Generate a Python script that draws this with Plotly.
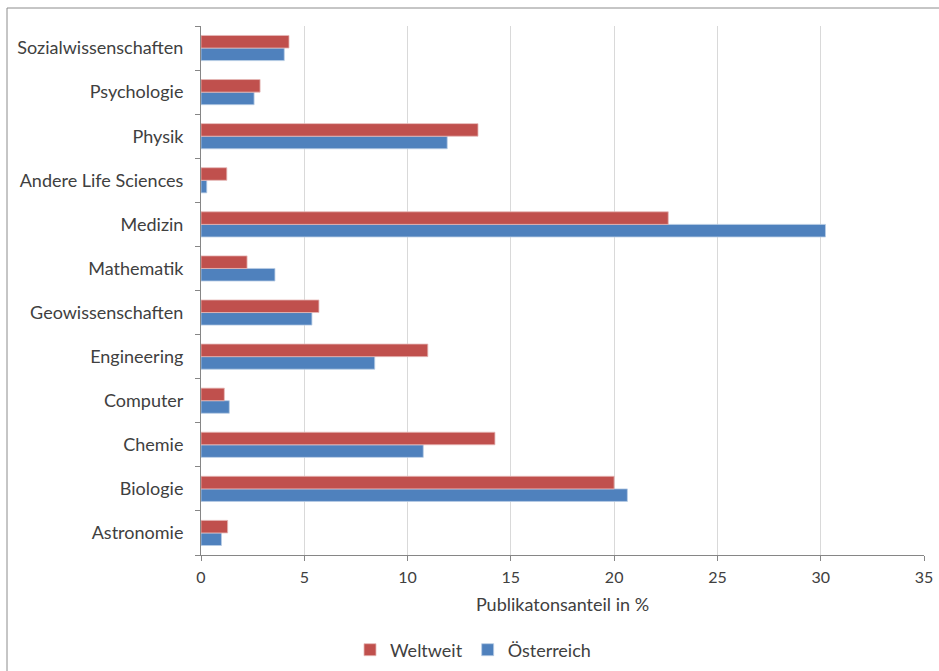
import plotly.graph_objects as go

categories = ["Astronomie", "Biologie", "Chemie", "Computer", "Engineering",
              "Geowissenschaften", "Mathematik", "Medizin", "Andere Life Sciences",
              "Physik", "Psychologie", "Sozialwissenschaften"]
weltweit = [1.29, 20.0, 14.23, 1.13, 10.98, 5.71, 2.23, 22.62, 1.25, 13.41, 2.86, 4.26]
oesterreich = [0.99, 20.64, 10.76, 1.37, 8.41, 5.37, 3.58, 30.23, 0.28, 11.92, 2.57, 4.03]
x_ticks = [0, 5, 10, 15, 20, 25, 30, 35]

FONT = "Lato"
TXT = "#404040"

fig = go.Figure()
fig.add_trace(go.Bar(y=categories, x=oesterreich, name="Österreich", orientation="h",
                     marker=dict(color="#4F81BD", line=dict(color="#B9CDE5", width=0.8)),
                     legendrank=2))
fig.add_trace(go.Bar(y=categories, x=weltweit, name="Weltweit", orientation="h",
                     marker=dict(color="#C0504D", line=dict(color="#E6B9B8", width=0.8)),
                     legendrank=1))

W, H = 939, 671
L, R, T, B = 201, 15, 26, 116
pw = W - L - R
ph = H - T - B

fig.update_layout(
    width=W, height=H,
    margin=dict(l=L, r=R, t=T, b=B, autoexpand=False),
    barmode="group", bargap=0.43, bargroupgap=0,
    plot_bgcolor="white", paper_bgcolor="white",
    font=dict(family=FONT, size=18, color=TXT),
    xaxis=dict(range=[0, 35], tickvals=x_ticks, showgrid=True, gridcolor="#D9D9D9",
               gridwidth=1, zeroline=False, showline=True, linecolor="#868686",
               ticks="outside", ticklen=5, tickcolor="#868686",
               ticklabelstandoff=3, automargin=False,
               tickfont=dict(family=FONT, size=16, color=TXT),
               title=dict(text="Publikatonsanteil in %", standoff=13,
                          font=dict(family=FONT, size=18, color=TXT))),
    yaxis=dict(type="category", categoryorder="array", categoryarray=categories,
               showline=True, linecolor="#868686", ticks="outside", ticklen=5,
               tickcolor="#868686", tickson="boundaries", showgrid=False,
               automargin=False,
               tickfont=dict(family=FONT, size=18, color=TXT), ticklabelstandoff=13),
    legend=dict(orientation="h", x=(350 - L) / pw, xanchor="left",
                y=-(650 - (T + ph)) / ph, yanchor="middle",
                font=dict(family=FONT, size=18, color=TXT), traceorder="normal"),
    shapes=[dict(type="rect", xref="paper", yref="paper",
                 x0=(7 - L) / pw, x1=(950 - L) / pw,
                 y0=-(690 - (T + ph)) / ph, y1=1 + (T - 8) / ph,
                 line=dict(color="#8C8C8C", width=1), fillcolor="rgba(0,0,0,0)",
                 layer="below")],
)

fig.write_html("out.html", config={"displayModeBar": False},
               post_script="document.body.style.margin='0';document.body.style.overflow='hidden';")
